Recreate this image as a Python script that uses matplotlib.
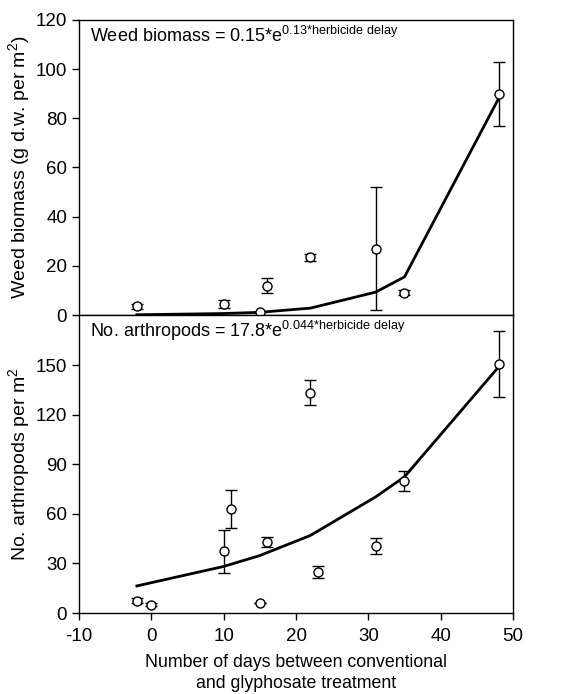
import matplotlib
matplotlib.use("Agg")
import matplotlib.pyplot as plt

plt.rcParams['font.family'] = ['Liberation Sans', 'DejaVu Sans']
plt.rcParams['axes.unicode_minus'] = False
plt.rcParams['mathtext.fontset'] = 'custom'
plt.rcParams['mathtext.rm'] = 'Liberation Sans'

# ---- weed biomass (top panel) ----
weed_days = [-2, 10, 15, 16, 22, 31, 35, 48]
weed_mean = [3.5, 4.5, 1.2, 12, 23.5, 27, 9, 90]
weed_err = [1.0, 1.5, 0, 3, 1.5, 25, 1.0, 13]
weed_fit_days = [-2, 10, 15, 22, 31, 35, 48]
weed_fit = [0.1, 0.6, 1.1, 2.8, 9.3, 15.5, 88]

# ---- arthropods (bottom panel) ----
arth_days = [-2, 0, 10, 11, 15, 16, 22, 23, 31, 35, 48]
arth_mean = [7.5, 5, 37.5, 63, 6, 43, 133.5, 25, 40.5, 80, 151]
arth_err = [1.5, 1.0, 13, 11.5, 0, 3, 7.7, 3.5, 5, 6.3, 20]
arth_fit_days = [-2, 10, 15, 22, 31, 35, 48]
arth_fit = [16.4, 28.2, 34.8, 47, 70.3, 82.5, 149]

xticks = [-10, 0, 10, 20, 30, 40, 50]

fig = plt.figure(figsize=(5.62, 6.94), dpi=100)
left, width = 0.1406, 0.7722
ax1 = fig.add_axes([left, 0.5461, width, 0.4251])
ax2 = fig.add_axes([left, 0.1167, width, 0.4294])

def draw_panel(ax, days, mean, err, fdays, fit):
    ax.plot(fdays, fit, color='black', lw=2, zorder=2)
    ax.errorbar(days, mean, yerr=err, fmt='o', ms=6.5, mfc='white', mec='black',
                mew=1, ecolor='black', elinewidth=1, capsize=4.5, capthick=1, zorder=3)
    ax.set_xlim(-10, 50)
    for s in ax.spines.values():
        s.set_linewidth(1)
    ax.tick_params(axis='both', direction='out', length=5, width=1, labelsize=13.5,
                   top=False, right=False)
    ax.tick_params(axis='x', pad=6)

draw_panel(ax1, weed_days, weed_mean, weed_err, weed_fit_days, weed_fit)
ax1.set_ylim(0, 120)
ax1.set_yticks([0, 20, 40, 60, 80, 100, 120])
ax1.set_xticks([])
ax1.set_ylabel('Weed biomass (g d.w. per m$^2$)', fontsize=14, labelpad=2)
ax1.text(0.025, 0.925, r'Weed biomass = 0.15*e$^{\mathregular{0.13{*}herbicide\ delay}}$',
         transform=ax1.transAxes, fontsize=13, va='baseline', ha='left')

draw_panel(ax2, arth_days, arth_mean, arth_err, arth_fit_days, arth_fit)
ax2.set_ylim(0, 180.5)
ax2.set_yticks([0, 30, 60, 90, 120, 150])
ax2.set_xticks(xticks)
ax2.set_xticklabels([str(t) for t in xticks])
ax2.set_ylabel('No. arthropods per m$^2$', fontsize=14, labelpad=2)
ax2.set_xlabel('Number of days between conventional\nand glyphosate treatment',
               fontsize=12.8, labelpad=6, linespacing=1.3)
ax2.text(0.025, 0.926, r'No. arthropods = 17.8*e$^{\mathregular{0.044{*}herbicide\ delay}}$',
         transform=ax2.transAxes, fontsize=13, va='baseline', ha='left')

fig.align_ylabels([ax1, ax2])
fig.savefig('out.png', dpi=100)
